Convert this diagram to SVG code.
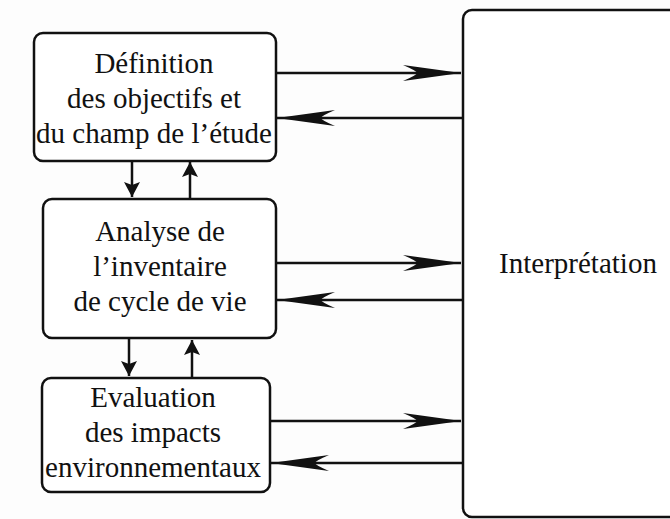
<svg xmlns="http://www.w3.org/2000/svg" width="670" height="519" viewBox="0 0 670 519">
<style>
.box{fill:#fff;stroke:#111;stroke-width:2.5}
.t{font-family:'Liberation Serif','Tinos','Times New Roman','Times','Noto Serif','DejaVu Serif','FreeSerif',serif;font-size:29px;fill:#111;text-anchor:middle}
.c{stroke:#111;stroke-width:2.5;fill:none}
</style>
<defs>
<marker id="big" markerUnits="userSpaceOnUse" viewBox="-58 -9 60 18" refX="0" refY="0" markerWidth="60" markerHeight="18" orient="auto">
<path d="M0,0 L-58,-8 Q-44,-2 -44,0 Q-44,2 -58,8 Z" fill="#111"/>
</marker>
<marker id="small" markerUnits="userSpaceOnUse" viewBox="-16 -9 18 18" refX="0" refY="0" markerWidth="18" markerHeight="18" orient="auto">
<path d="M0,0 L-15,-8 L-12,0 L-15,8 Z" fill="#111"/>
</marker>
</defs>
<rect width="670" height="519" fill="#fdfdfd"/>
<g id="connectors">
<line class="c" x1="276" y1="73" x2="461" y2="73" marker-end="url(#big)"/>
<line class="c" x1="462" y1="118" x2="277" y2="118" marker-end="url(#big)"/>
<line class="c" x1="276" y1="263" x2="461" y2="263" marker-end="url(#big)"/>
<line class="c" x1="462" y1="300" x2="277" y2="300" marker-end="url(#big)"/>
<line class="c" x1="270" y1="421" x2="461" y2="421" marker-end="url(#big)"/>
<line class="c" x1="462" y1="463" x2="271" y2="463" marker-end="url(#big)"/>
<line class="c" x1="132" y1="161" x2="132" y2="197" marker-end="url(#small)"/>
<line class="c" x1="190" y1="199" x2="190" y2="162" marker-end="url(#small)"/>
<line class="c" x1="129" y1="338" x2="129" y2="376" marker-end="url(#small)"/>
<line class="c" x1="192" y1="378" x2="192" y2="340" marker-end="url(#small)"/>
</g>
<g id="n1">
<rect class="box" x="34" y="33" width="242" height="128" rx="9"/>
<text class="t" x="154" y="73">Définition</text>
<text class="t" x="154" y="108">des objectifs et</text>
<text class="t" x="154" y="143">du champ de l’étude</text>
</g>
<g id="n2">
<rect class="box" x="43" y="199" width="233" height="139" rx="9"/>
<text class="t" x="160" y="241">Analyse de</text>
<text class="t" x="160" y="276">l’inventaire</text>
<text class="t" x="160" y="311">de cycle de vie</text>
</g>
<g id="n3">
<rect class="box" x="42" y="378" width="228" height="114" rx="9"/>
<text class="t" x="153" y="407">Evaluation</text>
<text class="t" x="153" y="442">des impacts</text>
<text class="t" x="153" y="477">environnementaux</text>
</g>
<g id="n4">
<rect class="box" x="463" y="10" width="230" height="507" rx="9"/>
<text class="t" x="578" y="273">Interprétation</text>
</g>
</svg>
